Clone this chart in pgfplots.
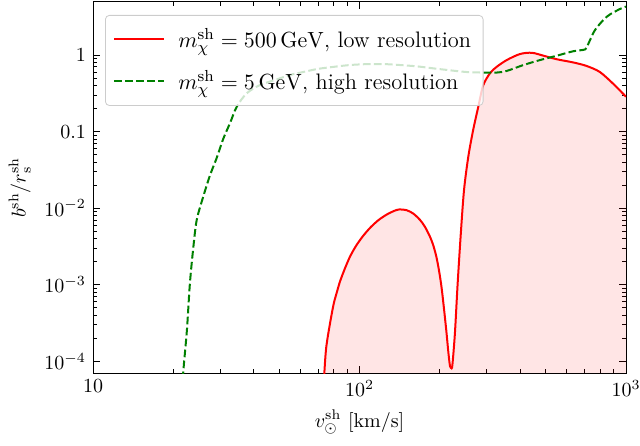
\documentclass[border=0pt]{standalone}
\usepackage{pgfplots}
\pgfplotsset{compat=1.18}
\definecolor{mplgreen}{HTML}{008000}
\definecolor{mplred}{HTML}{FF0000}
\begin{document}
\begin{tikzpicture}
\useasboundingbox (0,0) rectangle (320pt,222.5pt);
\begin{axis}[
  at={(46.5pt,36pt)}, anchor=south west,
  scale only axis, width=266.5pt, height=185.5pt,
  xmode=log, ymode=log,
  xmin=10, xmax=1000, ymin=7e-5, ymax=4.93,
  xtick={10,100,1000}, xticklabels={$10$,$10^2$,$10^3$},
  ytick={1e-4,1e-3,1e-2,0.1,1},
  yticklabels={$10^{-4}$,$10^{-3}$,$10^{-2}$,$0.1$,$1$},
  tick align=inside, xtick pos=both, ytick pos=both,
  major tick length=3.5pt, minor tick length=2pt,
  tick style={black, line width=0.4pt},
  axis line style={line width=0.5pt},
  xlabel={$v_\odot^{\mathrm{sh}}$ [km/s]},
  ylabel={$b^{\mathrm{sh}}/r_{\mathrm{s}}^{\mathrm{sh}}$},
  legend style={at={(0.0225,0.965)}, anchor=north west, draw=black!20,
    rounded corners=2pt, fill=white, fill opacity=0.8, text opacity=1,
    draw opacity=1, row sep=6pt, inner xsep=4pt, inner ysep=4.5pt,
    font=\fontsize{11.2}{13.4}\selectfont},
  legend cell align=left,
  legend image code/.code={\draw[#1] (0pt,0pt) -- (25pt,0pt); \path (29.5pt,0pt);},
]
\addplot[draw=none, fill=mplred, fill opacity=0.1, smooth, forget plot] coordinates {
(73.8,7e-5) (75,1.5e-4) (77.5,3.1e-4) (80,5.6e-4) (82,7.7e-4) (84.5,1.1e-3) (88,1.6e-3)
(92,2.3e-3) (97,3.2e-3) (103,4.3e-3) (110,5.6e-3) (118,7.0e-3) (127,8.3e-3) (135,9.2e-3)
(141,9.6e-3) (150,9.4e-3) (159,8.5e-3) (168.7,7.0e-3) (176,5.7e-3) (184,4.2e-3) (190,3.1e-3)
(196,2.0e-3) (203,9.4e-4) (211,2.8e-4) (215.5,1.3e-4) (218.6,8.6e-5) (221,8.3e-5)
(223,8.8e-5) (228,2.3e-4) (233.5,1.04e-3) (240,4.7e-3) (246.7,0.0172) (256,0.047)
(267,0.105) (279,0.21) (291,0.40) (309,0.58) (327,0.70) (357,0.86) (400,1.03)
(443,1.07) (490,0.98) (550,0.88) (634,0.80) (711,0.72) (798,0.60) (896,0.42)
(960,0.33) (1000,0.285)
} |- (73.8,7e-5) -- cycle;
\addplot[mplred, line width=1pt, smooth] coordinates {
(73.5,5e-5) (73.8,7e-5) (75,1.5e-4) (77.5,3.1e-4) (80,5.6e-4) (82,7.7e-4) (84.5,1.1e-3) (88,1.6e-3)
(92,2.3e-3) (97,3.2e-3) (103,4.3e-3) (110,5.6e-3) (118,7.0e-3) (127,8.3e-3) (135,9.2e-3)
(141,9.6e-3) (150,9.4e-3) (159,8.5e-3) (168.7,7.0e-3) (176,5.7e-3) (184,4.2e-3) (190,3.1e-3)
(196,2.0e-3) (203,9.4e-4) (211,2.8e-4) (215.5,1.3e-4) (218.6,8.6e-5) (221,8.3e-5)
(223,8.8e-5) (228,2.3e-4) (233.5,1.04e-3) (240,4.7e-3) (246.7,0.0172) (256,0.047)
(267,0.105) (279,0.21) (291,0.40) (309,0.58) (327,0.70) (357,0.86) (400,1.03)
(443,1.07) (490,0.98) (550,0.88) (634,0.80) (711,0.72) (798,0.60) (896,0.42)
(960,0.33) (1000,0.285)
};
\addlegendentry{$m_\chi^{\mathrm{sh}}=500\,\mathrm{GeV}$, low resolution}
\addplot[mplgreen, line width=1pt, dash pattern=on 3.85pt off 1.65pt, smooth] coordinates {
(21.6,3e-5) (21.8,7e-5) (22.5,2.5e-4) (23.1,1.04e-3) (23.8,3.1e-3) (24.5,7.0e-3)
(25.9,0.014) (27.5,0.027) (29.1,0.045) (30.8,0.08) (32.7,0.13) (34.6,0.21)
(37.7,0.315) (42.3,0.405) (48.9,0.48) (55,0.55) (61.5,0.60) (70,0.66) (79.8,0.70)
(92,0.74) (106.4,0.76) (125,0.76) (142,0.74) (165,0.71) (189,0.67) (220,0.63)
(252,0.60) (290,0.59) (327,0.59) (357,0.62) (412,0.74) (476,0.86) (550,0.98)
(634,1.12) (701,1.18) (715,1.3) (733,1.57) (765,2.12) (822,2.87) (871,3.4)
(950,4.0) (1000,4.3)
};
\addlegendentry{$m_\chi^{\mathrm{sh}}=5\,\mathrm{GeV}$, high resolution}
\end{axis}
\end{tikzpicture}
\end{document}
